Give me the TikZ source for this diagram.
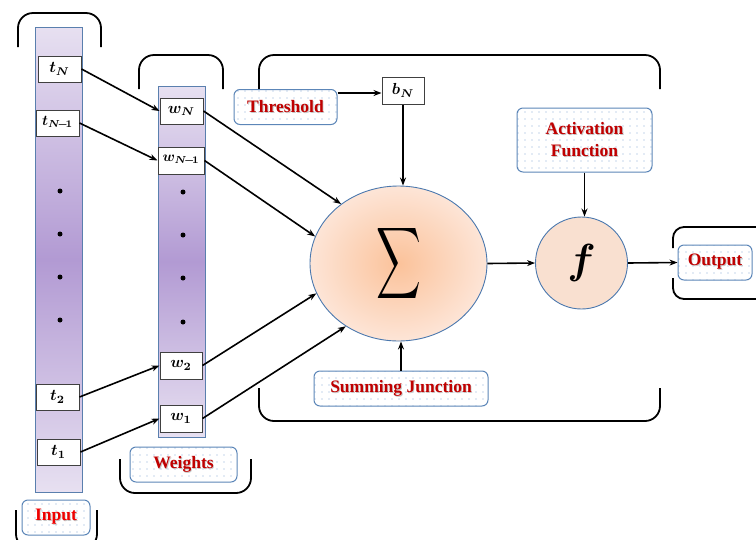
\documentclass[tikz,border=0pt]{standalone}
\usepackage{fontspec}
\setmainfont{Liberation Serif}
\usepackage{amsmath,bm}
\usetikzlibrary{arrows.meta,shapes.geometric,patterns,calc}

\definecolor{colborder}{HTML}{5A7FAE}
\definecolor{colend}{HTML}{E7E0F1}
\definecolor{colmid}{HTML}{B29AD3}
\definecolor{tagborder}{HTML}{5C86B8}
\definecolor{dotblue}{HTML}{86A9D6}
\definecolor{tagred}{HTML}{C00000}
\definecolor{inred}{HTML}{F00000}
\definecolor{peachin}{HTML}{FBC29A}
\definecolor{peachout}{HTML}{FDE5D7}
\definecolor{peachflat}{HTML}{F9E0D0}
\definecolor{ringblue}{HTML}{4B78AE}

% sparse dot fill used inside the label boxes
\pgfdeclarepatternformonly{sparsedots}{\pgfqpoint{-1pt}{-1pt}}{\pgfqpoint{1pt}{1pt}}{\pgfqpoint{7pt}{7pt}}%
  {\pgfpathcircle{\pgfqpoint{0pt}{0pt}}{0.7pt}\pgfusepath{fill}}

% label text with a soft drop shadow
\newcommand{\shtext}[1]{\leavevmode\rlap{\kern0.9pt\raisebox{-0.9pt}{\textcolor{black!22}{#1}}}#1}
% enlarged bold math label
\newcommand{\mlab}[1]{\scalebox{1.6}{$\bm{#1}$}}
\newcommand{\mlabw}[1]{\scalebox{1.45}{$\bm{#1}$}}

\tikzset{
  arr/.style={line width=1.6pt, -{Stealth[length=8pt,width=6pt]}},
  var/.style={draw=black!75, line width=1pt, fill=white, minimum width=43pt,
    minimum height=26pt, inner sep=0pt},
  col/.style={draw=colborder, line width=1pt, top color=colend, bottom color=colend,
    middle color=colmid, inner sep=0pt, minimum width=47pt},
  tag/.style={draw=tagborder, line width=1pt, rounded corners=6pt, preaction={fill=white},
    pattern=sparsedots, pattern color=dotblue, inner sep=0pt, align=center,
    font=\fontsize{17.5}{19.5}\selectfont\bfseries, text=tagred},
  brk/.style={line width=1.8pt, rounded corners=15pt},
  dotmark/.style={circle, fill=black, inner sep=0pt, minimum size=5pt},
}

\begin{document}
\begin{tikzpicture}[x=1pt, y=-1pt]
\useasboundingbox (0,0) rectangle (756,539);

% brackets
\draw[brk] (18,47) -- (18,13) -- (101,13) -- (101,47);
\draw[brk] (16,510) -- (16,549) -- (97,549) -- (97,510);
\draw[brk] (139,89) -- (139,55) -- (223,55) -- (223,89);
\draw[brk] (120,459) -- (120,493) -- (251,493) -- (251,459);
\draw[brk] (259,89) -- (259,55) -- (660,55) -- (660,89);
\draw[brk] (259,388) -- (259,421) -- (660,421) -- (660,388);
\draw[line width=1.8pt, rounded corners=11pt] (673,248) -- (673,227) -- (780,227);
\draw[line width=1.8pt, rounded corners=11pt] (673,278) -- (673,299) -- (780,299);

% input and weight columns
\node[col, minimum height=465pt] (incol) at (58.5,259.5) {};
\node[col, minimum height=351pt] (wcol) at (181.5,261.5) {};

\foreach \y [count=\i] in {191,234,277,320}
  \node[dotmark] (ti\i) at (60,\y) {};
\foreach \y [count=\i] in {192,235,278,322}
  \node[dotmark] (wi\i) at (183,\y) {};

\node[var] (tN)  at (59.5,69)  {\mlab{t_N}};
\node[var] (tN1) at (57.5,123) {\mlabw{t_{N\!-\!1}}};
\node[var] (t2)  at (57.5,397) {\mlab{t_2}};
\node[var] (t1)  at (58.5,452) {\mlab{t_1}};

\node[var] (wN)  at (181.5,111)  {\mlab{w_N}};
\node[var, minimum width=46pt, minimum height=27pt] (wN1) at (181,160.5) {\mlabw{w_{N\!-\!1}}};
\node[var, minimum width=42pt, minimum height=27pt] (w2)  at (181,365.5) {\mlab{w_2}};
\node[var, minimum width=42pt, minimum height=27pt] (w1)  at (181,418.5) {\mlab{w_1}};

% labels
\node[tag, minimum width=68pt, minimum height=35pt, text=inred] (inp) at (56,517.5) {\shtext{Input}};
\node[tag, minimum width=107pt, minimum height=35pt] (wts) at (183.5,464.5) {\shtext{Weights}};
\node[tag, minimum width=103pt, minimum height=35pt] (thr) at (285.5,107) {\shtext{Threshold}};
\node[tag, minimum width=174pt, minimum height=35pt] (sj) at (401,388.5) {\shtext{Summing Junction}};
\node[tag, minimum width=135pt, minimum height=64pt] (act) at (584.5,140)
  {\shtext{Activation}\\[2pt]\shtext{Function}};
\node[tag, minimum width=74pt, minimum height=35pt] (out) at (715,262.5) {\shtext{Output}};

% bias box
\node[var, minimum width=42pt, minimum height=27pt] (bN) at (403,90.5) {\mlab{b_N}};

% summing node and activation node
\node[ellipse, draw=ringblue, line width=0.9pt, inner color=peachin, outer color=peachout,
  minimum width=177pt, minimum height=155pt, inner sep=0pt] (sig) at (398.5,263.5)
  {\scalebox{3.1}[5.0]{$\displaystyle\sum$}};
\node[circle, draw=ringblue, line width=0.9pt, fill=peachflat, minimum size=92pt,
  inner sep=0pt] (fn) at (581.5,263) {\scalebox{4.2}{$\bm{f}$}};

% connectors
\draw[arr] (tN.east)  -- (wN.west);
\draw[arr] (tN1.east) -- (wN1.west);
\draw[arr] (t2.east)  -- (w2.west);
\draw[arr] (t1.east)  -- (w1.west);

\draw[arr] (wN.east)  -- (sig.134);
\draw[arr] (wN1.east) -- (sig.162);
\draw[arr] (w2.east)  -- (sig.200);
\draw[arr] (w1.east)  -- (sig.230);

\draw[arr] ([yshift=-4pt]thr.north east) -- ([yshift=-4pt]thr.north east -| bN.west);
\draw[arr] (bN.south) -- (bN.south |- sig.north);
\draw[arr] (sj.north) -- (sj.north |- sig.south);
\draw[arr] (sig.east) -- (fn.west);
\draw[arr] (act.south) -- (act.south |- fn.north);
\draw[arr] (fn.east) -- (out.west);
\end{tikzpicture}
\end{document}
